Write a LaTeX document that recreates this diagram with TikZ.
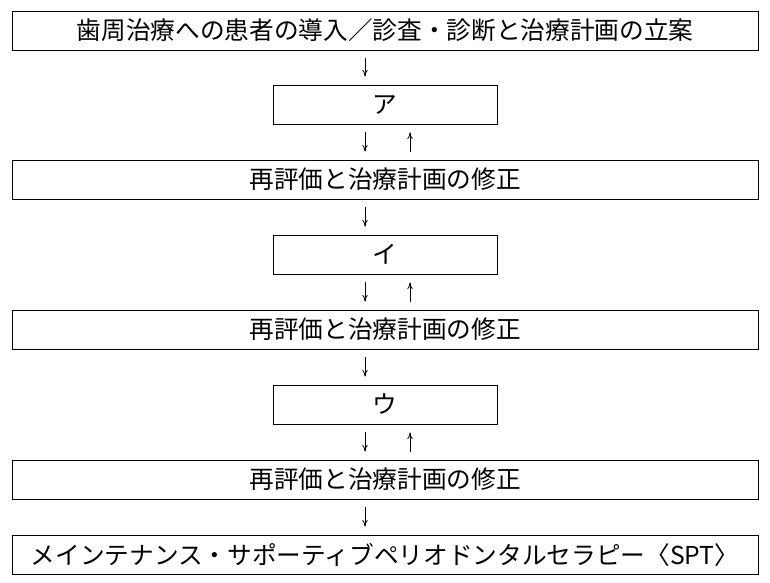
\documentclass[tikz,border=0pt]{standalone}
\usepackage{fontspec}
\setmainfont{Noto Sans CJK JP}
\usetikzlibrary{arrows.meta}

\begin{document}
\begin{tikzpicture}[x=0.75pt,y=-0.75pt,line width=0.6pt,
  >={To[length=5pt,width=4pt]},
  wide/.style={draw,minimum width=746*0.75pt,minimum height=39*0.75pt,inner sep=0pt,font=\fontsize{18.5}{20}\selectfont},
  stage/.style={draw,minimum width=224*0.75pt,minimum height=39*0.75pt,inner sep=0pt,font=\fontsize{18.5}{20}\selectfont},
  flow/.style={->,shorten >=6pt,shorten <=6pt}]
  \useasboundingbox (0,0) rectangle (770,582);
  % boxes
  \node[wide] (start) at (385,30.5) {歯周治療への患者の導入／診査・診断と治療計画の立案};
  \node[stage] (a) at (385,104.5) {ア};
  \node[wide] (ra) at (385,179.5) {再評価と治療計画の修正};
  \node[stage] (b) at (385,254.5) {イ};
  \node[wide] (rb) at (385,329.5) {再評価と治療計画の修正};
  \node[stage] (c) at (385,404.5) {ウ};
  \node[wide] (rc) at (385,479.5) {再評価と治療計画の修正};
  \node[wide] (spt) at (385,554.5) {メインテナンス・サポーティブペリオドンタルセラピー〈SPT〉};
  % arrows
  \coordinate (dn) at (365,0);
  \coordinate (up) at (410,0);
  \draw[flow] (start.south -| dn) -- (a.north -| dn);
  \draw[flow] (a.south -| dn) -- (ra.north -| dn);
  \draw[flow] (ra.north -| up) -- (a.south -| up);
  \draw[flow] (ra.south -| dn) -- (b.north -| dn);
  \draw[flow] (b.south -| dn) -- (rb.north -| dn);
  \draw[flow] (rb.north -| up) -- (b.south -| up);
  \draw[flow] (rb.south -| dn) -- (c.north -| dn);
  \draw[flow] (c.south -| dn) -- (rc.north -| dn);
  \draw[flow] (rc.north -| up) -- (c.south -| up);
  \draw[flow] (rc.south -| dn) -- (spt.north -| dn);
\end{tikzpicture}
\end{document}
